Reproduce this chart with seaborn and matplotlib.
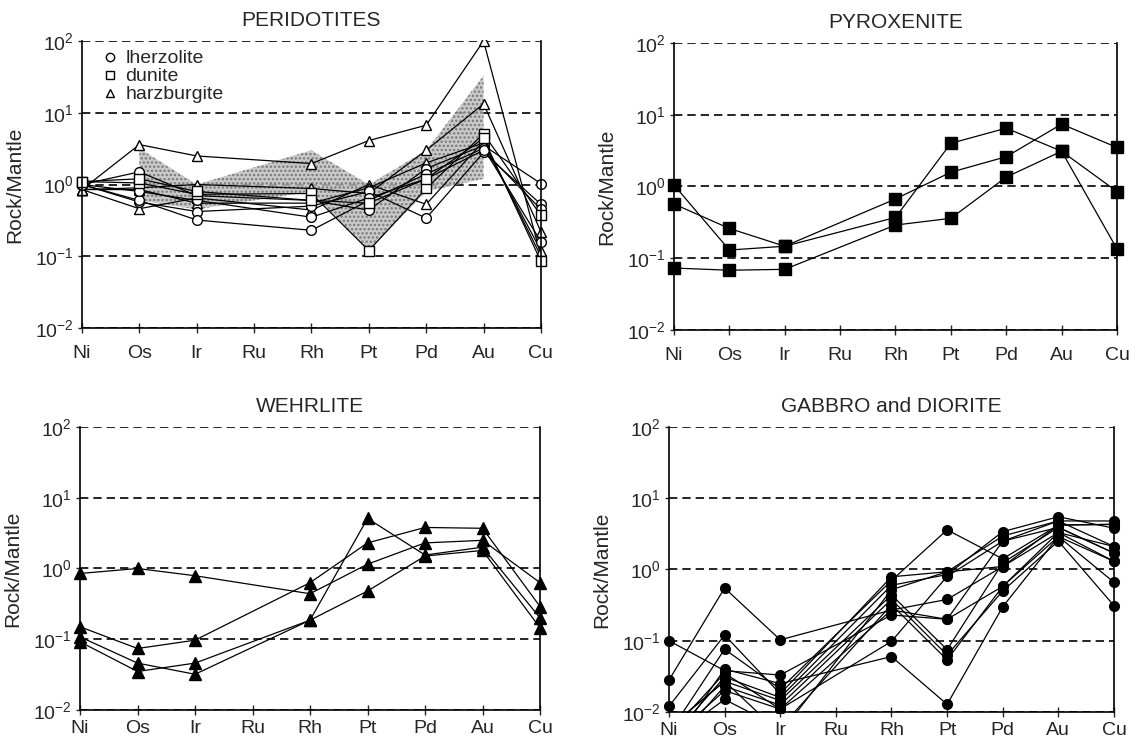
#!/usr/bin/env python3
"""Rock/Mantle normalised PGE patterns for four rock groups (2x2 panels)."""

import matplotlib
matplotlib.use("Agg")
import matplotlib.pyplot as plt
from matplotlib.lines import Line2D
from matplotlib.patches import Rectangle
import pandas as pd
import seaborn as sns


ELEMENTS = ["Ni", "Os", "Ir", "Ru", "Rh", "Pt", "Pd", "Au", "Cu"]
# Ru was not analysed: every profile skips it
MEASURED = ["Ni", "Os", "Ir", "Rh", "Pt", "Pd", "Au", "Cu"]

# --- PERIDOTITES (Ni, Os, Ir, Rh, Pt, Pd, Au, Cu) ---
perid_rock = ["harzburgite", "harzburgite", "harzburgite", "harzburgite",
              "lherzolite", "lherzolite", "lherzolite", "lherzolite",
              "dunite", "dunite"]
perid_values = [
    [0.85, 3.6, 2.5, 1.96, 4.1, 6.7, 100.0, 0.10],
    [0.85, 0.90, 1.0, 0.88, 0.75, 3.0, 13.3, 0.22],
    [0.85, 0.46, 0.65, 0.44, 1.0, 0.53, 4.0, 0.10],
    [0.85, 0.85, 0.55, 0.55, 0.90, 2.0, 3.8, 0.12],
    [1.0, 1.5, 0.70, 0.60, 0.44, 1.67, 3.5, 1.03],
    [1.0, 0.57, 0.42, 0.50, 0.80, 0.34, 2.8, 0.53],
    [1.0, 0.60, 0.32, 0.23, 0.60, 1.40, 3.2, 0.16],
    [1.0, 0.80, 0.60, 0.35, 0.65, 1.20, 3.0, 0.45],
    [1.1, 1.05, 0.73, 0.75, 0.12, 0.88, 5.1, 0.37],
    [1.1, 1.2, 0.80, 0.60, 0.55, 1.20, 4.4, 0.085],
]
# shaded reference field, Os..Au
field_elements = ["Os", "Ir", "Rh", "Pt", "Pd", "Au"]
field_low = [0.60, 0.45, 0.80, 0.12, 0.80, 1.2]
field_high = [3.2, 1.0, 3.0, 1.0, 3.0, 33.0]

# --- PYROXENITE ---
pyrox_values = [
    [1.05, 0.13, 0.147, 0.67, 1.58, 2.6, 7.4, 3.5],
    [0.57, 0.26, 0.147, 0.37, 4.0, 6.5, 3.1, 0.85],
    [0.073, 0.068, 0.070, 0.29, 0.36, 1.35, 3.1, 0.135],
]

# --- WEHRLITE ---
wehr_values = [
    [0.85, 1.0, 0.79, 0.44, 1.15, 2.3, 2.5, 0.63],
    [0.15, 0.074, 0.097, 0.63, 2.3, 3.8, 3.7, 0.29],
    [0.108, 0.046, 0.032, 0.186, 5.1, 1.55, 2.0, 0.20],
    [0.092, 0.035, 0.046, 0.186, 0.48, 1.5, 1.8, 0.145],
]

# --- GABBRO and DIORITE ---
gabbro_values = [
    [0.10, 0.038, 0.033, 0.23, 0.20, 0.58, 2.9, 0.66],
    [0.028, 0.55, 0.103, 0.27, 0.38, 1.10, 3.3, 2.1],
    [0.012, 0.12, 0.018, 0.79, 0.93, 2.95, 4.8, 4.8],
    [0.005, 0.076, 0.021, 0.70, 3.6, 1.41, 4.2, 4.3],
    [0.004, 0.031, 0.016, 0.60, 0.85, 3.4, 5.5, 3.8],
    [0.006, 0.027, 0.0145, 0.44, 0.075, 1.24, 3.9, 1.7],
    [0.003, 0.023, 0.0125, 0.38, 0.063, 0.50, 2.5, 0.31],
    [0.004, 0.015, 0.006, 0.32, 0.054, 0.58, 3.3, 1.3],
    [0.005, 0.035, 0.011, 0.098, 0.80, 2.5, 4.8, 2.1],
    [0.003, 0.040, 0.025, 0.060, 0.0128, 0.30, 2.9, 1.3],
    [0.006, 0.027, 0.005, 0.52, 0.93, 1.10, 4.2, 4.3],
    [0.004, 0.020, 0.011, 0.27, 0.20, 2.5, 3.9, 1.7],
]

PANELS = [
    ("PERIDOTITES", [0.0719, 0.5591, 0.4026, 0.3858]),
    ("PYROXENITE", [0.5912, 0.5565, 0.3886, 0.3857]),
    ("WEHRLITE", [0.0702, 0.0457, 0.4035, 0.3804]),
    ("GABBRO and DIORITE", [0.5868, 0.0430, 0.3904, 0.3831]),
]

FONT = ["Liberation Sans", "DejaVu Sans"]


def _long(values, rocks=None):
    rows = []
    for i, prof in enumerate(values):
        for el, v in zip(MEASURED, prof):
            rows.append({
                "sample": i,
                "rock": rocks[i] if rocks else "all",
                "pos": ELEMENTS.index(el),
                "value": v,
            })
    return pd.DataFrame(rows)


def _style_axes(ax, title, xpad):
    ax.set_yscale("log")
    ax.set_ylim(1e-2, 1e2)
    ax.set_xlim(0, len(ELEMENTS) - 1)
    ax.set_xticks(range(len(ELEMENTS)))
    ax.set_xticklabels(ELEMENTS)
    ax.set_yticks([1e-2, 1e-1, 1e0, 1e1, 1e2])
    ax.yaxis.set_minor_locator(matplotlib.ticker.NullLocator())
    ax.grid(axis="y", color="black", linestyle=(0, (5, 3)), linewidth=1.2)
    ax.grid(axis="x", visible=False)
    ax.set_axisbelow(True)
    ax.spines["top"].set_visible(False)
    for side in ("left", "right", "bottom"):
        ax.spines[side].set_visible(True)
        ax.spines[side].set_color("black")
        ax.spines[side].set_linewidth(1.2)
    ax.tick_params(axis="x", direction="inout", length=7, width=1, labelsize=14, pad=xpad)
    ax.tick_params(axis="y", direction="out", length=3, width=1, labelsize=14, pad=3)
    ax.set_xlabel("")
    ax.set_ylabel("Rock/Mantle", fontsize=15, labelpad=8)
    ax.set_title(title, fontsize=15, pad=11)
    # let edge markers sit on the side spines
    clip = Rectangle((-0.03, -0.005), 1.06, 1.01, transform=ax.transAxes)
    for line in ax.lines:
        line.set_clip_path(clip)
    for coll in ax.collections:
        coll.set_clip_path(clip)


def main():
    sns.set_theme(style="ticks")
    plt.rcParams["font.family"] = FONT
    plt.rcParams["mathtext.fontset"] = "custom"
    plt.rcParams["mathtext.rm"] = "Liberation Sans"
    plt.rcParams["hatch.linewidth"] = 1.2

    fig = plt.figure(figsize=(11.4, 7.44), dpi=100)
    axes = [fig.add_axes(pos) for _, pos in PANELS]

    line_kws = dict(units="sample", estimator=None, color="black",
                    linewidth=0.9, markeredgecolor="black", markeredgewidth=1.0,
                    legend=False)

    # peridotites: stippled field + open symbols
    ax = axes[0]
    fpos = [ELEMENTS.index(e) for e in field_elements]
    ax.fill_between(fpos, field_low, field_high, color="0.74", alpha=0.8,
                    linewidth=0, hatch="....", edgecolor="0.4")
    perid = _long(perid_values, perid_rock)
    sns.lineplot(data=perid, x="pos", y="value", style="rock",
                 markers={"lherzolite": "o", "dunite": "s", "harzburgite": "^"},
                 dashes=False, markersize=7, markerfacecolor="white",
                 ax=ax, **line_kws)
    handles = [Line2D([], [], linestyle="none", marker=m, markersize=6,
                      markerfacecolor="white", markeredgecolor="black")
               for m in ("o", "s", "^")]
    ax.legend(handles, ["lherzolite", "dunite", "harzburgite"], loc="upper left",
              bbox_to_anchor=(0.02, 1.01), frameon=False, fontsize=14,
              handlelength=0.7, handletextpad=0.45, labelspacing=0.02,
              borderpad=0.1)

    sns.lineplot(data=_long(pyrox_values), x="pos", y="value", marker="s",
                 markersize=8, markerfacecolor="black", ax=axes[1], **line_kws)
    sns.lineplot(data=_long(wehr_values), x="pos", y="value", marker="^",
                 markersize=8, markerfacecolor="black", ax=axes[2], **line_kws)
    sns.lineplot(data=_long(gabbro_values), x="pos", y="value", marker="o",
                 markersize=7, markerfacecolor="black", ax=axes[3], **line_kws)

    for i, (ax, (title, _)) in enumerate(zip(axes, PANELS)):
        _style_axes(ax, title, xpad=9 if i < 2 else 4)

    fig.savefig("out.png", dpi=100)
    plt.close(fig)


if __name__ == "__main__":
    main()
